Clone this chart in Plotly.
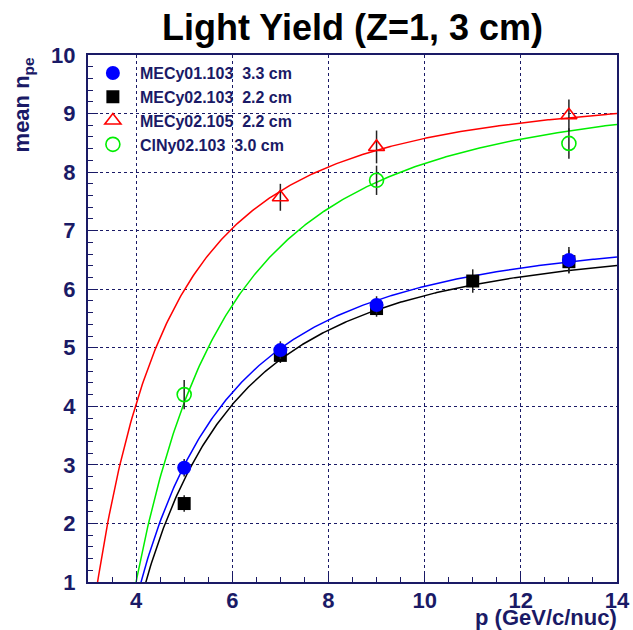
import numpy as np
import plotly.graph_objects as go

# ---- data ----
names = ["MECy01.103  3.3 cm", "MECy02.103  2.2 cm", "MECy02.105  2.2 cm", "ClNy02.103  3.0 cm"]

x_mec01 = [5, 7, 9, 13]
y_mec01 = [2.95, 4.96, 5.73, 6.50]
e_mec01 = [0.15, 0.15, 0.15, 0.22]

x_mec02 = [5, 7, 9, 11, 13]
y_mec02 = [2.34, 4.87, 5.67, 6.14, 6.47]
e_mec02 = [0.14, 0.13, 0.14, 0.2, 0.2]

x_mec05 = [7, 9, 13]
y_mec05 = [7.57, 8.43, 8.97]
e_mec05 = [0.23, 0.28, 0.27]

x_cln = [5, 9, 13]
y_cln = [4.20, 7.86, 8.49]
e_cln = [0.25, 0.25, 0.26]

# fit parameters (y = a - b / p^2), estimated from the drawn curves
fit_a = [7.07, 6.94, 9.44, 9.51]
fit_b = [102.0, 104.8, 86.4, 136.2]

x_ticks = [4, 6, 8, 10, 12, 14]
y_ticks = [1, 2, 3, 4, 5, 6, 7, 8, 9, 10]

NAVY = "#1a1a66"
FONT = "Liberation Sans, Arial, Helvetica, sans-serif"
colors = ["#0000ff", "#000000", "#ff0000", "#00ee00"]

fig = go.Figure()

# fit curves
xs = np.linspace(3.0, 14.0, 400)
for a, b, c in zip(fit_a, fit_b, colors):
    fig.add_trace(go.Scatter(x=xs, y=a - b / xs**2, mode="lines",
                             line=dict(color=c, width=1.5), showlegend=False,
                             hoverinfo="skip"))

def pts(x, y, e, sym, color, size, fill, lw):
    return go.Scatter(
        x=x, y=y, mode="markers", showlegend=False,
        error_y=dict(type="data", array=e, visible=True, color="#222222",
                     thickness=1.5, width=0),
        marker=dict(symbol=sym, size=size, color=fill,
                    line=dict(color=color, width=lw)))

fig.add_trace(pts(x_mec02, y_mec02, e_mec02, "square", "#000000", 13, "#000000", 0))
fig.add_trace(pts(x_mec01, y_mec01, e_mec01, "circle", "#0000ff", 14, "#0000ff", 0))
fig.add_trace(pts(x_mec05, y_mec05, e_mec05, "triangle-up-open", "#ff0000", 14, "#ff0000", 1.6))
fig.add_trace(pts(x_cln, y_cln, e_cln, "circle-open", "#00ee00", 14, "#00ee00", 1.6))

# legend entries
leg_specs = [("circle", "#0000ff", 14, 0),
             ("square", "#000000", 13, 0),
             ("triangle-up-open", "#ff0000", 14, 1.6),
             ("circle-open", "#00ee00", 14, 1.6)]
for i, (nm, (sym, c, s, lw)) in enumerate(zip(names, leg_specs)):
    fig.add_trace(go.Scatter(x=[None], y=[None], mode="markers", name=nm,
                             marker=dict(symbol=sym, size=s, color=c,
                                         line=dict(color=c, width=lw))))

axis_common = dict(
    showline=True, linecolor=NAVY, linewidth=2, mirror=True,
    showgrid=True, gridcolor=NAVY, griddash="dot", gridwidth=1,
    ticks="inside", tickcolor=NAVY, ticklen=10, tickwidth=1,
    tickfont=dict(family=FONT, size=22, color=NAVY, weight="bold"),
    zeroline=False, fixedrange=True, automargin=False,
)

fig.update_xaxes(range=[3, 14], tickvals=x_ticks, ticktext=[str(v) for v in x_ticks],
                 minor=dict(dtick=0.5, ticks="inside", ticklen=5, tickcolor=NAVY, showgrid=False),
                 ticklabelstandoff=-2, **axis_common)
fig.update_yaxes(range=[1, 10], tickvals=y_ticks, ticktext=[str(v) for v in y_ticks],
                 minor=dict(dtick=0.2, ticks="inside", ticklen=5, tickcolor=NAVY, showgrid=False),
                 ticklabelstandoff=6, **axis_common)

fig.update_layout(
    width=633, height=630,
    margin=dict(l=88, r=16, t=55, b=48, autoexpand=False),
    paper_bgcolor="white", plot_bgcolor="white",
    title=dict(text="Light Yield (Z=1, 3 cm)", x=0.557, xanchor="center",
               y=1 - 27 / 630, yanchor="middle",
               font=dict(family=FONT, size=36, color="black", weight="bold")),
    legend=dict(x=-0.004, y=0.998, xanchor="left", yanchor="top",
                bgcolor="rgba(0,0,0,0)", borderwidth=0,
                itemwidth=44, traceorder="normal",
                font=dict(family=FONT, size=16, color=NAVY, weight="bold")),
    annotations=[
        dict(text="mean n<sub>pe</sub>", xref="paper", yref="paper",
             x=-0.123, y=1.0, xanchor="center", yanchor="top", textangle=-90,
             showarrow=False,
             font=dict(family=FONT, size=22, color=NAVY, weight="bold")),
        dict(text="p (GeV/c/nuc)", xref="paper", yref="paper",
             x=1.004, y=-0.068, xanchor="right", yanchor="middle",
             showarrow=False,
             font=dict(family=FONT, size=22, color=NAVY, weight="bold")),
    ],
)

fig.write_html("out.html")
